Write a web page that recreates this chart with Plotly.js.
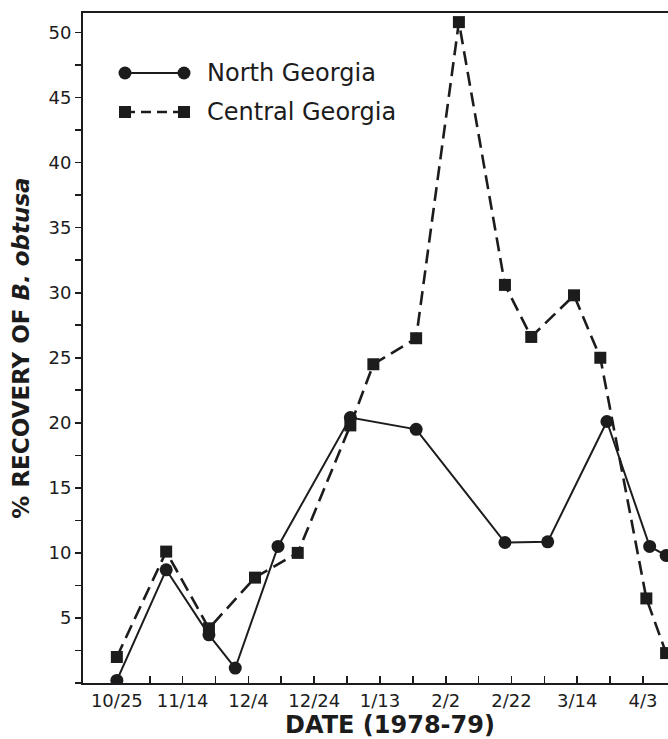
<!DOCTYPE html>
<html>
<head>
<meta charset="utf-8">
<script src="https://cdn.plot.ly/plotly-3.0.1.min.js"></script>
<style>
html,body{margin:0;padding:0;background:#fff;overflow:hidden;width:668px;height:739px;}
#chart{width:697px;height:739px;}
</style>
</head>
<body>
<div id="chart"></div>
<script>
// ---- data ----
const northDates = ['1978-10-25','1978-11-09','1978-11-22','1978-11-30','1978-12-13','1979-01-04','1979-01-24','1979-02-20','1979-03-05','1979-03-23','1979-04-05','1979-04-10'];
const northValues = [0.2, 8.7, 3.7, 1.15, 10.5, 20.4, 19.5, 10.8, 10.85, 20.1, 10.5, 9.8];

const centralDates = ['1978-10-25','1978-11-09','1978-11-22','1978-12-06','1978-12-19','1979-01-04','1979-01-11','1979-01-24','1979-02-06','1979-02-20','1979-02-28','1979-03-13','1979-03-21','1979-04-04','1979-04-10'];
const centralValues = [2.0, 10.1, 4.2, 8.1, 10.0, 19.8, 24.5, 26.5, 50.8, 30.6, 26.6, 29.8, 25.0, 6.5, 2.3];

const xTickVals = ['1978-10-25','1978-11-14','1978-12-04','1978-12-24','1979-01-13','1979-02-02','1979-02-22','1979-03-14','1979-04-03'];
const xTickText = ['10/25','11/14','12/4','12/24','1/13','2/2','2/22','3/14','4/3'];
const yTickVals = [5,10,15,20,25,30,35,40,45,50];
const yTickText = ['5','10','15','20','25','30','35','40','45','50'];
const seriesNames = ['North Georgia','Central Georgia'];

// ---- style ----
const ink = '#1c1c1c';
const W = 697, H = 739;   // figure runs past the right edge of the window, like the cropped original
const M = {l:83, r:0, t:13, b:56};
const plotW = W - M.l - M.r, plotH = H - M.t - M.b;
const px = x => (x - M.l) / plotW;          // legend helper: pixel -> paper
const py = y => (H - M.b - y) / plotH;

const traces = [
  {
    x: northDates, y: northValues, name: seriesNames[0],
    type: 'scatter', mode: 'lines+markers',
    line: {color: ink, width: 2},
    marker: {symbol: 'circle', size: 13, color: ink},
    showlegend: false
  },
  {
    x: centralDates, y: centralValues, name: seriesNames[1],
    type: 'scatter', mode: 'lines+markers',
    line: {color: ink, width: 2.6, dash: '14px,7px'},
    marker: {symbol: 'square', size: 12, color: ink},
    showlegend: false
  }
];

// custom legend drawn as decorations (line samples with end markers)
const legY1 = 73, legY2 = 112, legX0 = 125, legX1 = 184;
const shapes = [
  {type:'line', xref:'paper', yref:'paper', x0:px(legX0), x1:px(legX1), y0:py(legY1), y1:py(legY1), line:{color:ink, width:2}},
  {type:'line', xref:'paper', yref:'paper', x0:px(legX0), x1:px(legX1), y0:py(legY2), y1:py(legY2), line:{color:ink, width:2.6, dash:'10px,6px'}},
];
[legX0, legX1].forEach(lx => {
  shapes.push({type:'circle', xref:'paper', yref:'paper', xsizemode:'pixel', ysizemode:'pixel',
    xanchor:px(lx), yanchor:py(legY1), x0:-6.5, x1:6.5, y0:-6.5, y1:6.5, fillcolor:ink, line:{width:0}});
  shapes.push({type:'rect', xref:'paper', yref:'paper', xsizemode:'pixel', ysizemode:'pixel',
    xanchor:px(lx), yanchor:py(legY2), x0:-6, x1:6, y0:-6, y1:6, fillcolor:ink, line:{width:0}});
});

const annotations = [
  {xref:'paper', yref:'paper', x:px(205), y:py(legY1), xanchor:'left', yanchor:'middle', showarrow:false,
   text: seriesNames[0], font:{family:'DejaVu Sans', size:24, color:ink}},
  {xref:'paper', yref:'paper', x:px(205), y:py(legY2), xanchor:'left', yanchor:'middle', showarrow:false,
   text: seriesNames[1], font:{family:'DejaVu Sans', size:24, color:ink}}
];

const layout = {
  width: W, height: H,
  margin: M,
  paper_bgcolor: '#fff', plot_bgcolor: '#fff',
  showlegend: false,
  font: {family: 'DejaVu Sans', color: ink},
  xaxis: {
    type: 'date',
    range: ['1978-10-14 17:00', '1979-04-19 09:30'],
    tickmode: 'array', tickvals: xTickVals, ticktext: xTickText,
    ticks: 'inside', ticklen: 7, tickwidth: 1.6, tickcolor: ink,
    minor: {dtick: 10*86400000, tick0: '1978-10-25', ticks: 'inside', ticklen: 7, tickwidth: 1.6, tickcolor: ink, showgrid: false},
    showline: true, linecolor: ink, linewidth: 2, mirror: true,
    showgrid: false, zeroline: false,
    tickfont: {family: 'DejaVu Sans', size: 18, color: ink},
    title: {text: 'DATE (1978-79)', font: {family: 'DejaVu Sans', size: 24, color: ink, weight: 'bold'}, standoff: 8}
  },
  yaxis: {
    range: [0, 51.5],
    tickmode: 'array', tickvals: yTickVals, ticktext: yTickText,
    ticks: 'outside', ticklen: 6, tickwidth: 1.6, tickcolor: ink,
    minor: {dtick: 2.5, tick0: 0, ticks: 'outside', ticklen: 6, tickwidth: 1.6, tickcolor: ink, showgrid: false},
    showline: true, linecolor: ink, linewidth: 2, mirror: false,
    showgrid: false, zeroline: false,
    tickfont: {family: 'DejaVu Sans', size: 18, color: ink},
    title: {text: '% RECOVERY OF <i>B. obtusa</i>', font: {family: 'DejaVu Sans', size: 23, color: ink, weight: 'bold'}, standoff: 12}
  },
  shapes: shapes,
  annotations: annotations
};

Plotly.newPlot('chart', traces, layout, {displayModeBar: false, staticPlot: true});
</script>
</body>
</html>
